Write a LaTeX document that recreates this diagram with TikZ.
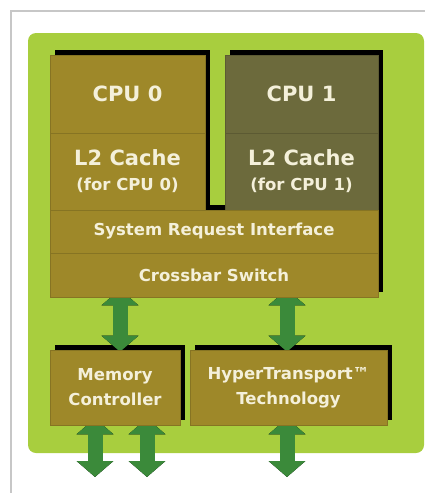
\documentclass[tikz,border=0pt]{standalone}
\usepackage{fontspec}
\setsansfont{DejaVu Sans}
\usetikzlibrary{arrows.meta,backgrounds}

\definecolor{panelgreen}{HTML}{A8CE3E}
\definecolor{blockgold}{HTML}{9E8829}
\definecolor{blockolive}{HTML}{6C6A3C}
\definecolor{busgreen}{HTML}{3B8A3A}
\definecolor{labelcream}{HTML}{F4F0DA}

\tikzset{
  blk/.style={fill=blockgold, draw=blockgold!85!black, line width=0.6pt,
    text=labelcream, align=center, inner sep=0pt,
    font=\sffamily\bfseries\fontsize{16.5}{25}\selectfont},
  big/.style={font=\sffamily\bfseries\fontsize{21}{25}\selectfont},
  bus/.style={line width=15pt, draw=busgreen,
    {Triangle[width=36pt,length=16pt]}-{Triangle[width=36pt,length=16pt]}},
  busshadow/.style={bus, draw=black, xshift=5pt},
}

\begin{document}
\begin{tikzpicture}[x=1pt,y=-1pt]
\useasboundingbox (0,0) rectangle (425,493);

% CPU columns
\node[blk, big, minimum width=155pt, minimum height=78pt] (cpu0) at (127.5,94) {CPU 0};
\node[blk, minimum width=155pt, minimum height=77pt] (l2a) at (127.5,171.5)
  {{\fontsize{21}{25}\selectfont L2 Cache}\\(for CPU 0)};
\node[blk, big, fill=blockolive, draw=blockolive!85!black, minimum width=153pt, minimum height=78pt] (cpu1) at (301.5,94) {CPU 1};
\node[blk, fill=blockolive, draw=blockolive!85!black, minimum width=153pt, minimum height=77pt] (l2b) at (301.5,171.5)
  {{\fontsize{21}{25}\selectfont L2 Cache}\\(for CPU 1)};

% shared part
\node[blk, minimum width=328pt, minimum height=43pt] (sri) at (214,231.5) {System Request Interface};
\node[blk, minimum width=328pt, minimum height=44pt] (xbar) at (214,275) {Crossbar Switch};

% interfaces
\node[blk, minimum width=130pt, minimum height=75pt] (mem) at (115,387.5) {Memory\\Controller};
\node[blk, minimum width=197pt, minimum height=75pt] (ht) at (288.5,387.5) {HyperTransport™\\Technology};

% bus positions
\coordinate (busA) at (120,0);
\coordinate (busB) at (287,0);
\coordinate (outA) at (95,477);
\coordinate (outB) at (147,477);
\coordinate (outC) at (287,477);

\begin{scope}[on background layer]
% frame and panel
\draw[black!22, line width=2pt] (11,500) -- (11,11) -- (430,11);
\fill[panelgreen, rounded corners=8pt] (28,33) rectangle (424,453);

% block shadows
\fill[black] ([shift={(5pt,5pt)}]cpu0.north west) rectangle ([shift={(5pt,5pt)}]l2a.south east);
\fill[black] ([shift={(5pt,5pt)}]cpu1.north west) rectangle ([shift={(5pt,5pt)}]l2b.south east);
\fill[black] ([shift={(5pt,5pt)}]sri.north west) rectangle ([shift={(5pt,5pt)}]xbar.south east);
\fill[black] ([shift={(5pt,5pt)}]mem.north west) rectangle ([shift={(5pt,5pt)}]mem.south east);
\fill[black] ([shift={(5pt,5pt)}]ht.north west) rectangle ([shift={(5pt,5pt)}]ht.south east);

% buses
\foreach \s in {busshadow,bus} {
  \draw[\s] ([yshift=8pt]busA |- xbar.south) -- ([yshift=-2pt]busA |- mem.north);
  \draw[\s] ([yshift=8pt]busB |- xbar.south) -- ([yshift=-2pt]busB |- ht.north);
  \draw[\s] ([yshift=7pt]outA |- mem.south) -- (outA);
  \draw[\s] ([yshift=7pt]outB |- mem.south) -- (outB);
  \draw[\s] ([yshift=7pt]outC |- ht.south) -- (outC);
}
\end{scope}

\end{tikzpicture}
\end{document}
